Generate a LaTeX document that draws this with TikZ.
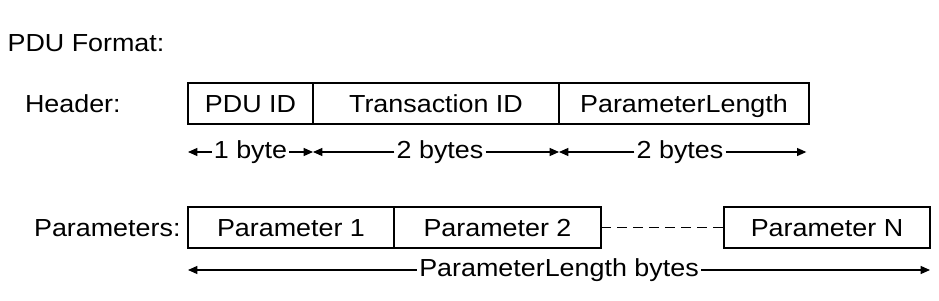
\documentclass[tikz,border=0pt]{standalone}
\usepackage{fontspec}
\setmainfont{Liberation Sans}[FakeStretch=1.09]
\usetikzlibrary{arrows.meta, math, positioning}

\tikzset{
  field/.style={draw, line width=1.1pt, outer sep=0pt, inner sep=0pt, minimum height=30.75pt, text height=13.2pt, text depth=0pt},
  bytes/.style={inner xsep=1.5pt, inner ysep=0pt, text height=9.2pt, text depth=0pt},
  span/.style={-{Triangle[length=7pt,width=6pt]}, line width=0.9pt},
}

\begin{document}
\begin{tikzpicture}[x=0.75pt, y=-0.75pt, every node/.style={font=\fontsize{18.5pt}{22pt}\selectfont}]
\tikzmath{
\hy=103.5; % header row
\py=227.5; % parameter row
\ay=152;
\by=270;
}
\useasboundingbox (0,0) rectangle (939,300);

\coordinate (arow) at (0,\ay);
\coordinate (brow) at (0,\by);

\node[anchor=base west, inner sep=0pt] (title) at (7.3,51.7) {PDU Format:};

% header
\node[field, minimum width=93.75pt] (pduid) at (250.5,\hy) {PDU ID};
\node[field, minimum width=184.5pt, right=0pt of pduid] (transid) {Transaction ID};
\node[field, minimum width=187.5pt, right=0pt of transid] (plength) {ParameterLength};
\node[field, draw=none, anchor=west] (header) at (25,\hy) {Header:};

\node[bytes] (onebyte) at (pduid |- arow) {1 byte};
\node[bytes] (twobytesA) at (440,\ay) {2 bytes};
\node[bytes] (twobytesB) at (680,\ay) {2 bytes};

\draw[span] (onebyte.west) -- (onebyte.west -| pduid.west);
\draw[span] (onebyte.east) -- (onebyte.east -| pduid.east);
\draw[span] (twobytesA.west) -- (twobytesA.west -| transid.west);
\draw[span] (twobytesA.east) -- (twobytesA.east -| transid.east);
\draw[span] (twobytesB.west) -- (twobytesB.west -| plength.west);
\draw[span] (twobytesB.east) -- ([xshift=-2pt]twobytesB.east -| plength.east);

% parameters
\node[field, minimum width=154.5pt] (param1) at (291,\py) {Parameter 1};
\node[field, minimum width=155.25pt, right=0pt of param1] (param2) {Parameter 2};
\node[field, minimum width=154.5pt, right=92.25pt of param2] (paramN) {Parameter N};
\node[field, draw=none, anchor=east] (params) at (180.5,\py) {Parameters:};

\draw[dash pattern=on 7.5pt off 4.5pt, line width=0.9pt] (param2.east) -- (paramN.west);

\node[bytes] (total) at (559,\by) {ParameterLength bytes};
\draw[span] (total.west) -- (total.west -| param1.west);
\draw[span] (total.east) -- (total.east -| paramN.east);

\end{tikzpicture}
\end{document}
